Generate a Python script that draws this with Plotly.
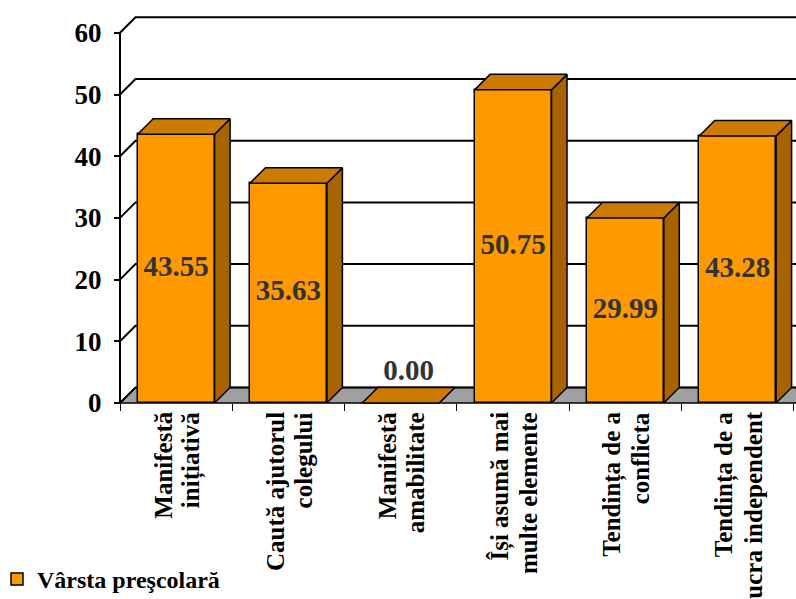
import plotly.graph_objects as go

# Data
categories = [
    ["Manifestă", "inițiativă"],
    ["Caută ajutorul", "colegului"],
    ["Manifestă", "amabilitate"],
    ["Își asumă mai", "multe elemente"],
    ["Tendința de a", "conflicta"],
    ["Tendința de a", "lucra independent"],
]
values = [43.55, 35.63, 0.00, 50.75, 29.99, 43.28]
series_name = "Vârsta preşcolară"
y_ticks = [0, 10, 20, 30, 40, 50, 60]

# Layout geometry (pixels)
W, H = 796, 599
PX_CAT = 112.3          # pixels per category slot
PX_UNIT = 6.17          # pixels per value unit
DEPTH_PX = 15.5         # 3D depth offset in pixels
BAR_W = 0.685
M_L, M_T = 110, 0
ZERO_PX = 403           # pixel row of value 0
BOTTOM_PX = 408
PLOT_W = W - M_L
PLOT_H = BOTTOM_PX - M_T

x_lo = -0.5 - (120 - M_L) / PX_CAT
x_hi = x_lo + PLOT_W / PX_CAT
y_lo = -(BOTTOM_PX - ZERO_PX) / PX_UNIT
y_hi = (ZERO_PX - M_T) / PX_UNIT
dx = DEPTH_PX / PX_CAT
dy = DEPTH_PX / PX_UNIT

FRONT = "#FF9900"
TOP = "#CC7A00"
SIDE = "#A66300"
FLOOR = "#A0A0A0"
FONT = "Liberation Serif"

n = len(values)
xs = list(range(n))

fig = go.Figure()

# Front faces of the columns
fig.add_trace(go.Bar(
    x=xs, y=values, width=BAR_W, name=series_name,
    marker=dict(color=FRONT, line=dict(color="black", width=1.5)),
    showlegend=True, hoverinfo="skip",
))

# Top and side faces
top_x, top_y, side_x, side_y = [], [], [], []
for i, v in zip(xs, values):
    x0, x1 = i - BAR_W / 2, i + BAR_W / 2
    top_x += [x0, x1, x1 + dx, x0 + dx, x0, None]
    top_y += [v, v, v + dy, v + dy, v, None]
    side_x += [x1, x1, x1 + dx, x1 + dx, x1, None]
    side_y += [0, v, v + dy, dy, 0, None]

fig.add_trace(go.Scatter(
    x=side_x, y=side_y, mode="lines", fill="toself", fillcolor=SIDE,
    line=dict(color="black", width=1.5), showlegend=False, hoverinfo="skip",
))
fig.add_trace(go.Scatter(
    x=top_x, y=top_y, mode="lines", fill="toself", fillcolor=TOP,
    line=dict(color="black", width=1.5), showlegend=False, hoverinfo="skip",
))

# Value labels
lab_x, lab_y, lab_pos = [], [], []
for i, v in zip(xs, values):
    if v > 0:
        lab_x.append(i); lab_y.append(v / 2); lab_pos.append("middle center")
    else:
        lab_x.append(i + dx / 2); lab_y.append(v + dy); lab_pos.append("top center")
fig.add_trace(go.Scatter(
    x=lab_x, y=lab_y, mode="text", text=[f"{v:.2f}" for v in values],
    textposition=lab_pos,
    textfont=dict(family=FONT, size=29, color="#333333", weight="bold"),
    showlegend=False, hoverinfo="skip", cliponaxis=False,
))

# Floor, back-wall gridlines and front value axis line
shapes = []
far = x_hi + 1
shapes.append(dict(
    type="path", xref="x", yref="y", layer="below",
    path=f"M {-0.5},0 L {far},0 L {far + dx},{dy} L {-0.5 + dx},{dy} Z",
    fillcolor=FLOOR, line=dict(color="black", width=1.5),
))
for t in y_ticks:
    shapes.append(dict(
        type="path", xref="x", yref="y", layer="below",
        path=f"M {-0.5},{t} L {-0.5 + dx},{t + dy} L {far},{t + dy}",
        line=dict(color="black", width=2),
    ))
shapes.append(dict(
    type="line", xref="x", yref="y", layer="below",
    x0=-0.5, x1=-0.5, y0=0, y1=max(y_ticks),
    line=dict(color="black", width=2),
))

# Category labels, one annotation per line
annotations = []
for i, lines in enumerate(categories):
    for j, txt in enumerate(lines):
        annotations.append(dict(
            x=i, y=0, xref="x", yref="y", text=txt, showarrow=False,
            textangle=-90, xanchor="center", yanchor="top",
            xshift=(-13 if j == 0 else 15), yshift=-7,
            font=dict(family=FONT, size=25, color="black", weight="bold"),
        ))

fig.update_layout(
    width=W, height=H,
    margin=dict(l=M_L, r=0, t=M_T, b=H - BOTTOM_PX, pad=0, autoexpand=False),
    paper_bgcolor="white", plot_bgcolor="white",
    shapes=shapes, annotations=annotations,
    bargap=0,
    showlegend=True,
    legend=dict(
        xref="paper", yref="paper",
        x=(-3 - M_L) / PLOT_W, y=(BOTTOM_PX - 602) / PLOT_H,
        xanchor="left", yanchor="bottom",
        font=dict(family=FONT, size=24, color="black", weight="bold"),
        bgcolor="rgba(0,0,0,0)",
    ),
    xaxis=dict(
        range=[x_lo, x_hi], anchor="free", position=(0 - y_lo) / (y_hi - y_lo),
        tickvals=[i - 0.5 for i in range(n + 1)], showticklabels=False,
        ticks="outside", ticklen=7, tickwidth=1.2, tickcolor="black",
        showgrid=False, zeroline=False, showline=False, fixedrange=True,
    ),
    yaxis=dict(
        range=[y_lo, y_hi], anchor="free", position=(-0.5 - x_lo) / (x_hi - x_lo),
        tickvals=y_ticks, ticks="outside", ticklen=6, tickwidth=1.5, tickcolor="black",
        tickfont=dict(family=FONT, size=27, color="black", weight="bold"),
        ticklabelstandoff=7,
        showgrid=False, zeroline=False, showline=False, fixedrange=True,
    ),
)

fig.write_html("out.html")
